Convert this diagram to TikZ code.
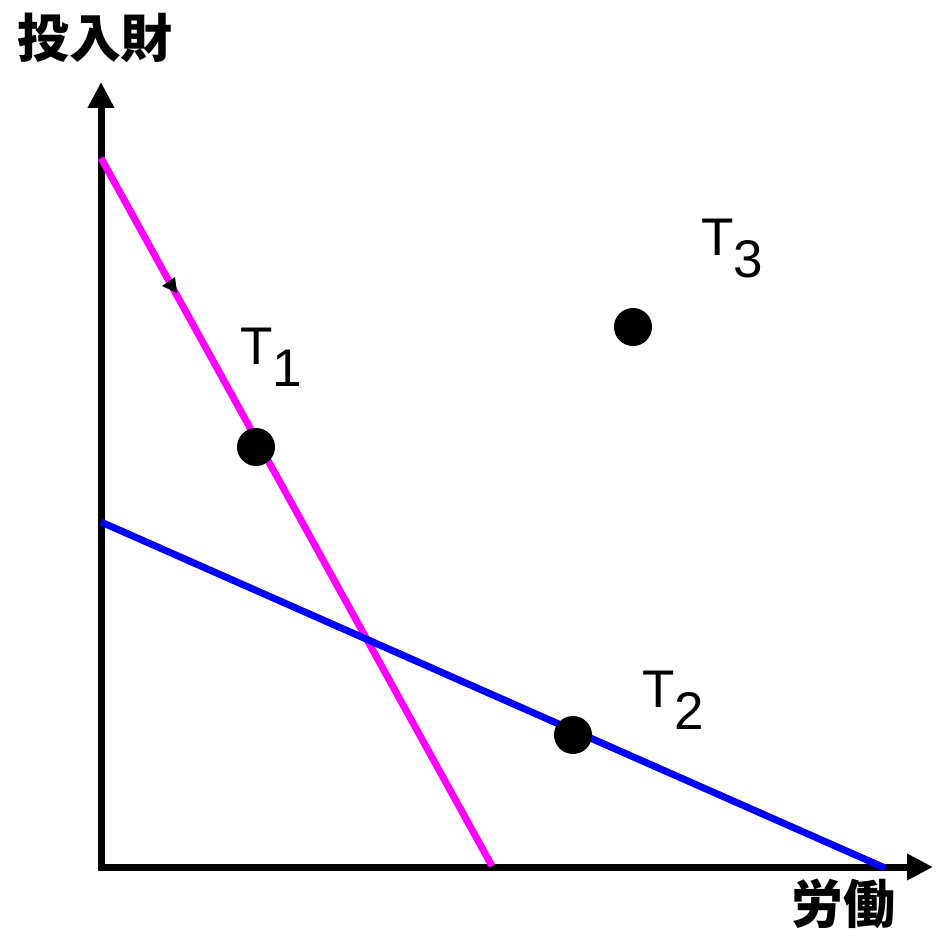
\documentclass[tikz,border=0pt]{standalone}
\usepackage{fontspec}
\setmainfont{Liberation Sans}
\newfontfamily\jpfont{Noto Sans CJK JP}
\usetikzlibrary{arrows.meta}
\newcommand{\lowsub}[1]{\raisebox{-22pt}{#1}}
\begin{document}
\begin{tikzpicture}[x=1pt,y=-1pt,
  axisline/.style={line width=7pt,-{Triangle[length=26pt,width=25pt]}},
  magline/.style={line width=7pt,draw={rgb,255:red,255;green,0;blue,255}},
  blueline/.style={line width=7pt,draw={rgb,255:red,0;green,0;blue,255}},
  dotmark/.style={circle,fill=black,minimum size=38pt,inner sep=0pt},
  tlabel/.style={font=\fontsize{53}{53}\selectfont,inner sep=0pt,anchor=base west},
  jlabel/.style={font=\jpfont\bfseries\fontsize{52}{52}\selectfont,inner sep=0pt}]
\useasboundingbox (0,0) rectangle (938,931);
\coordinate (O) at (101,867);
\coordinate (ytop) at (101,82);
\coordinate (xend) at (933,867);
\draw[axisline] (101,870.5) -- (ytop);
\draw[axisline] (97.5,867) -- (xend);
\coordinate (m1) at (101,158);
\coordinate (m2) at (492,866);
\draw[magline] (m1) -- (m2);
\coordinate (b1) at (101,522);
\coordinate (b2) at (885,868);
\draw[blueline] (b1) -- (b2);
\fill (177,293) -- (162,286) -- (175,277) -- cycle;
\node[dotmark] (t1) at (256,447) {};
\node[dotmark] (t3) at (633,327) {};
\node[dotmark] (t2) at (573,735) {};
\node[tlabel] (l1) at (240,364) {T\lowsub{1}};
\node[tlabel] (l3) at (701,255) {T\lowsub{3}};
\node[tlabel] (l2) at (642,707) {T\lowsub{2}};
\node[jlabel] (ylab) at (95,38) {投入財};
\node[jlabel] (xlab) at (843,904) {労働};
\end{tikzpicture}
\end{document}
